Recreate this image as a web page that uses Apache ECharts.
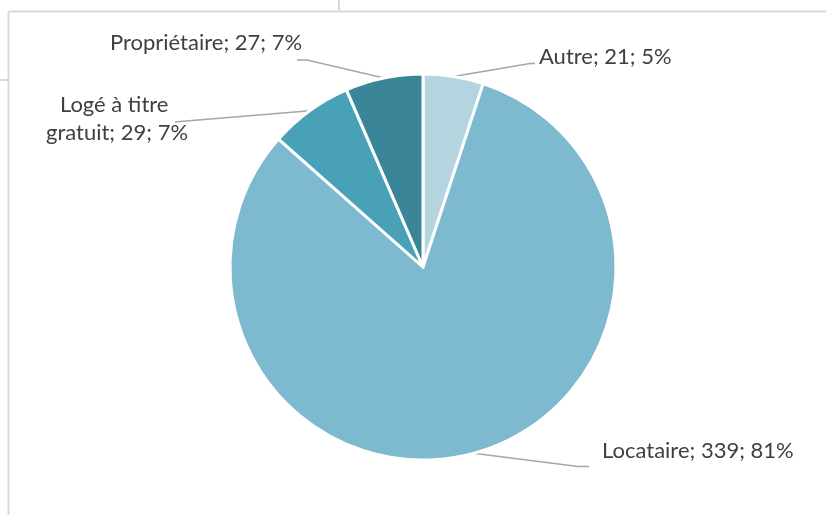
<!DOCTYPE html>
<html>
<head>
<meta charset="utf-8">
<script src="https://cdn.jsdelivr.net/npm/echarts@6/dist/echarts.min.js"></script>
<style>
html,body{margin:0;padding:0;background:#fff;}
#c{width:826px;height:515px;}
</style>
</head>
<body>
<div id="c"></div>
<script>
// ---- data ----
const categories = ['Autre', 'Locataire', 'Logé à titre gratuit', 'Propriétaire'];
const values = [21, 339, 29, 27];
const percentLabels = ['5%', '81%', '7%', '7%'];

// ---- styling ----
const colors = ['#b4d4df', '#7db9cf', '#48a1b7', '#3a8598'];
const labelPlacement = [
  { x: 539, y: 57, align: 'left', p1: [530, 63.5], p2: [535, 63.5] },
  { x: 602, y: 451, align: 'left', p1: [578, 466.5], p2: [589, 466.5] },
  { x: 117, y: 119, align: 'center', p1: [180, 121.5], p2: [175, 122] },
  { x: 206, y: 43, align: 'center', p1: [307, 60], p2: [297, 60] }
];

const chart = echarts.init(document.getElementById('c'), null, { renderer: 'canvas' });
const frame = '#d9d9d9';
chart.setOption({
  animation: false,
  backgroundColor: '#ffffff',
  graphic: [
    { type: 'line', shape: { x1: 8.5, y1: 11.5, x2: 826, y2: 11.5 }, style: { stroke: frame, lineWidth: 2 } },
    { type: 'line', shape: { x1: 8.5, y1: 11.5, x2: 8.5, y2: 515 }, style: { stroke: frame, lineWidth: 2 } },
    { type: 'line', shape: { x1: 339, y1: 0, x2: 339, y2: 11 }, style: { stroke: frame, lineWidth: 2 } },
    { type: 'line', shape: { x1: 0, y1: 80, x2: 8, y2: 80 }, style: { stroke: frame, lineWidth: 2 } },
    { type: 'circle', shape: { cx: -30, cy: -45, r: 50 }, style: { fill: 'none', stroke: '#a9d3e0', lineWidth: 4 } }
  ],
  series: [{
    type: 'pie',
    center: [423, 267],
    radius: 193,
    startAngle: 90,
    clockwise: true,
    avoidLabelOverlap: false,
    itemStyle: { borderColor: '#ffffff', borderWidth: 3 },
    label: {
      show: true,
      color: '#404040',
      fontFamily: 'Lato',
      fontSize: 22,
      lineHeight: 28,
      formatter: function (p) { return p.name + '; ' + p.value + '; ' + percentLabels[p.dataIndex]; }
    },
    labelLine: {
      show: true,
      length: 20,
      length2: 10,
      lineStyle: { color: '#a6a6a6', width: 1.5 }
    },
    labelLayout: function (params) {
      const L = labelPlacement[params.dataIndex];
      const pts = params.labelLinePoints;
      return {
        x: L.x, y: L.y, align: L.align, verticalAlign: 'middle',
        labelLinePoints: [pts[0], L.p1, L.p2]
      };
    },
    emphasis: { disabled: true },
    data: categories.map(function (n, i) {
      const d = { name: n, value: values[i], itemStyle: { color: colors[i] } };
      if (i === 2) d.label = { width: 165, overflow: 'break', align: 'center' };
      return d;
    })
  }]
});
</script>
</body>
</html>
